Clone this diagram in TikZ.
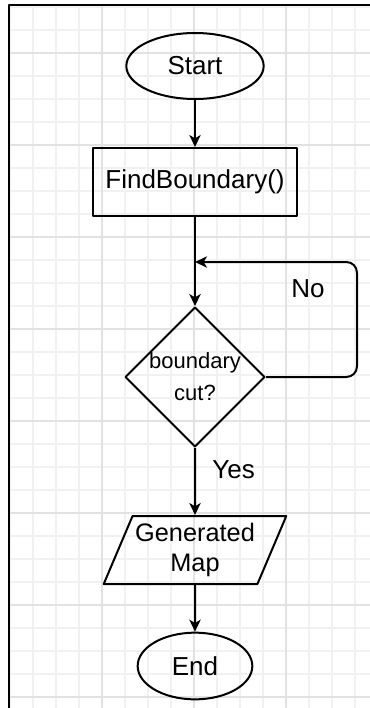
\documentclass[tikz,border=0pt]{standalone}
\usepackage{fontspec}
\setmainfont{Liberation Sans}
\usetikzlibrary{shapes.geometric,arrows.meta}
\definecolor{gridminor}{HTML}{F1F1F1}
\definecolor{gridmajor}{HTML}{E2E2E2}
\tikzset{
  terminal/.style={draw, ellipse, line width=1.5pt, inner sep=0pt},
  process/.style={draw, rectangle, line width=1.5pt, minimum width=153pt, minimum height=51pt},
  decision/.style={draw, diamond, line width=1.5pt, inner sep=0pt, minimum width=102pt, minimum height=102pt,
    align=center, font=\fontsize{16.5}{24}\selectfont},
  io/.style={draw, trapezium, trapezium left angle=63, trapezium right angle=117, trapezium stretches=true,
    line width=1.5pt, inner sep=0pt, minimum width=137pt, minimum height=51pt, align=center,
    font=\fontsize{19}{23}\selectfont},
  flow/.style={->, line width=1.5pt},
}
\begin{document}
\begin{tikzpicture}[x=0.75pt, y=-0.75pt, >={Stealth[length=9pt,width=8.5pt,inset=2.5pt]},
    line join=round, font=\fontsize{19.5}{23}\selectfont]
	\useasboundingbox (0,0) rectangle (370,708);
	% grid
	\foreach \x in {10,33,...,370} \draw[gridminor, line width=0.8pt] (\x,5) -- (\x,708);
	\foreach \y in {7,30,...,708} \draw[gridminor, line width=0.8pt] (9,\y) -- (370,\y);
	\foreach \x in {102,194,286} \draw[gridmajor, line width=0.8pt] (\x,5) -- (\x,708);
	\foreach \y in {53,145,...,708} \draw[gridmajor, line width=0.8pt] (9,\y) -- (370,\y);
	\draw[line width=1.6pt] (9,708) -- (9,5) -- (370,5);
	% shapes
	\node[terminal, minimum width=103pt, minimum height=49.5pt] (start) at (195,66) {Start};
	\node[process] (find) at (195,182) {FindBoundary()};
	\node[decision] (cut) at (195,377) {boundary\\cut?};
	\node[io] (map) at (195,550) {Generated\\Map};
	\node[terminal, minimum width=86pt, minimum height=50pt] (end) at (195,666) {End};
	\coordinate (join) at (195,262);
	\coordinate (loop) at (357,262);
	% connectors
	\draw[flow] (start) -- (find);
	\draw[flow] (find) -- (cut);
	\draw[flow, rounded corners=8pt] (cut.east) -| (loop) -- (join);
	\node (no) at (308,289) {No};
	\draw[flow] (cut) -- node[pos=0.33, anchor=west, xshift=9pt] (yes) {Yes} (map);
	\draw[flow] (map) -- (end);
\end{tikzpicture}
\end{document}
